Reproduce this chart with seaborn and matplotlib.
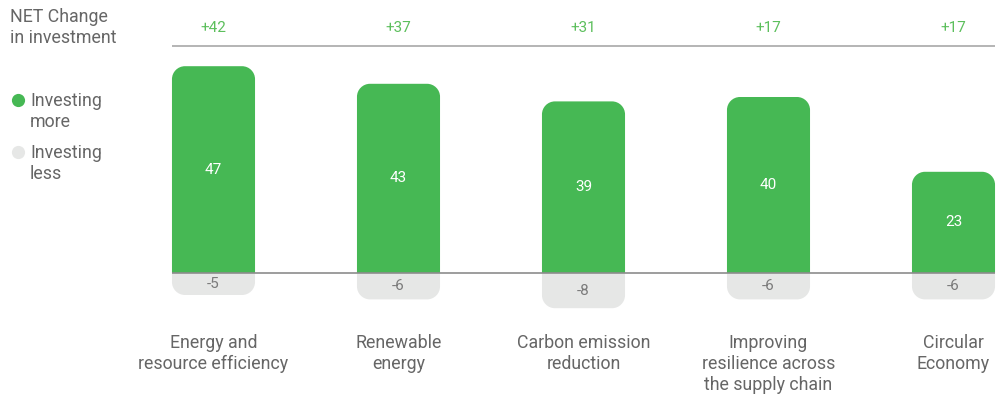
import numpy as np
import pandas as pd
import matplotlib
matplotlib.use("Agg")
import matplotlib.pyplot as plt
from matplotlib.path import Path
from matplotlib.patches import PathPatch
import seaborn as sns

# ---- data -------------------------------------------------------------
categories = [
    "Energy and\nresource efficiency",
    "Renewable\nenergy",
    "Carbon emission\nreduction",
    "Improving\nresilience across\nthe supply chain",
    "Circular\nEconomy",
]
investing_more = [47, 43, 39, 40, 23]
investing_less = [-5, -6, -8, -6, -6]
net_change = ["+42", "+37", "+31", "+17", "+17"]

GREEN = "#46B854"
GREY_BAR = "#E6E7E6"
LABEL = "#666666"
NET_GREEN = "#5cbf5c"

W, H = 1006, 400
DPI = 100
plt.rcParams["font.family"] = ["Roboto", "DejaVu Sans"]

fig = plt.figure(figsize=(W / DPI, H / DPI), dpi=DPI)
ax = fig.add_axes([0, 0, 1, 1])

df = pd.DataFrame({"category": categories,
                   "more": investing_more,
                   "less": investing_less})

BAR_W = 0.449
sns.barplot(data=df, x="category", y="more", color=GREEN, width=BAR_W,
            saturation=1, ax=ax)
sns.barplot(data=df, x="category", y="less", color=GREY_BAR, width=BAR_W,
            saturation=1, ax=ax)

# coordinate frame: 185 px between bars, 4.4 px per unit, baseline 127 px from bottom
PX_X = 185.0
PX_Y = 4.4
ax.set_xlim(-213.5 / PX_X, (W - 213.5) / PX_X)
ax.set_ylim(-127 / PX_Y, (H - 127) / PX_Y)
ax.axis("off")


def rounded_end_path(x0, x1, base, end, rx, ry):
    """Bar outline with rounded corners on the end away from the baseline."""
    s = 1 if end >= base else -1
    ry = min(ry, abs(end - base))
    k = 0.5523
    verts = [
        (x0, base), (x0, end - s * ry),
        (x0, end - s * ry + s * k * ry), (x0 + rx - k * rx, end), (x0 + rx, end),
        (x1 - rx, end),
        (x1 - rx + k * rx, end), (x1, end - s * ry + s * k * ry), (x1, end - s * ry),
        (x1, base), (x0, base),
    ]
    codes = [Path.MOVETO, Path.LINETO,
             Path.CURVE4, Path.CURVE4, Path.CURVE4,
             Path.LINETO,
             Path.CURVE4, Path.CURVE4, Path.CURVE4,
             Path.LINETO, Path.CLOSEPOLY]
    return Path(verts, codes)


RADIUS_PX = 13
for rect in list(ax.patches):
    x0 = rect.get_x()
    w = rect.get_width()
    y0 = rect.get_y()
    h = rect.get_height()
    path = rounded_end_path(x0, x0 + w, y0, y0 + h,
                            RADIUS_PX / PX_X, RADIUS_PX / PX_Y)
    ax.add_patch(PathPatch(path, facecolor=rect.get_facecolor(), edgecolor="none",
                           zorder=2))
    rect.remove()

xs = np.arange(len(categories))
left = xs[0] - BAR_W / 2
right = xs[-1] + BAR_W / 2

# baseline and top rule
ax.plot([left, right], [0, 0], color="#8c8c8c", lw=1.2, zorder=3,
        solid_capstyle="butt")
top_rule_y = (H - 46.5 - 127) / PX_Y
ax.plot([left, right], [top_rule_y, top_rule_y], color="#a8a8a8", lw=1.2,
        solid_capstyle="butt")

# value labels
for x, m, l, n in zip(xs, investing_more, investing_less, net_change):
    ax.text(x, m / 2, str(m), ha="center", va="center", color="white",
            fontsize=11, zorder=4)
    ax.text(x, l / 2, str(l), ha="center", va="center", color="#7a7a7a",
            fontsize=11, zorder=4)
    ax.text(x, (H - 28 - 127) / PX_Y, n, ha="center", va="center",
            color=NET_GREEN, fontsize=11)
    # category label below the baseline
    ax.text(x, -(334 - 273) / PX_Y, categories[x], ha="center", va="top",
            color=LABEL, fontsize=12.8, linespacing=1.2)

# header and legend on the left
fig.text(10 / W, 1 - 8 / H, "NET Change\nin investment", ha="left", va="top",
         color=LABEL, fontsize=12.8, linespacing=1.2)

ax.plot([18 / W], [1 - 100 / H], marker="o", ms=9.5, color=GREEN, mec="none",
        transform=ax.transAxes, clip_on=False)
ax.plot([18 / W], [1 - 152 / H], marker="o", ms=9.5, color=GREY_BAR, mec="none",
        transform=ax.transAxes, clip_on=False)
fig.text(30 / W, 1 - 92 / H, "Investing\nmore", ha="left", va="top",
         color=LABEL, fontsize=12.8, linespacing=1.2)
fig.text(30 / W, 1 - 144 / H, "Investing\nless", ha="left", va="top",
         color=LABEL, fontsize=12.8, linespacing=1.2)

fig.savefig("out.png", dpi=DPI, facecolor="white")
